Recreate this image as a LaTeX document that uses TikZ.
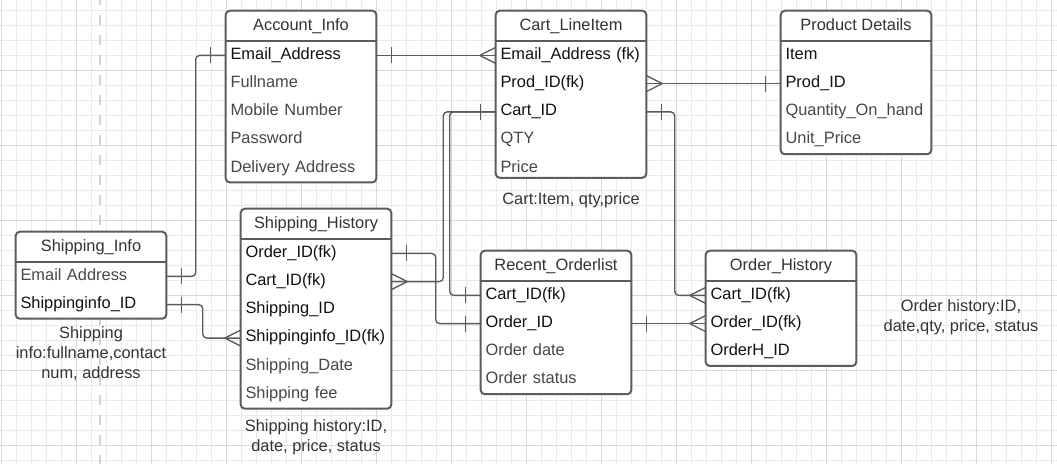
\documentclass[tikz,border=0pt]{standalone}
\usepackage{fontspec}
\setmainfont{Liberation Sans}
\usetikzlibrary{positioning,backgrounds}

\definecolor{framegray}{HTML}{5C5C5C}
\definecolor{linkgray}{HTML}{5A5A5A}
\definecolor{keytext}{HTML}{111111}
\definecolor{softtext}{HTML}{474747}
\definecolor{headtext}{HTML}{333333}
\definecolor{gridminor}{HTML}{EAEAEA}
\definecolor{gridmajor}{HTML}{D9D9D9}
\definecolor{dashgray}{HTML}{D2D2D2}

\begin{document}
\begin{tikzpicture}[x=0.75pt, y=-0.75pt,
    every node/.style={font=\fontsize{12.3}{15}\selectfont}]

    \tikzset{head/.style={minimum width=112.5pt, minimum height=22.5pt, inner sep=0pt,
                          text height=8.8pt, text depth=2.2pt, text=headtext}}
    \tikzset{row/.style={text width=105.7pt, inner xsep=3.4pt, inner ysep=0pt, align=left,
                         minimum height=20.775pt, text height=8.8pt, text depth=3pt,
                         text=softtext, below=0pt of #1}}
    \tikzset{key/.style={row=#1, text=keytext}}
    \tikzset{note/.style={align=center, text=headtext}}
    \tikzset{frame/.style={draw=framegray, line width=1.5pt, fill=white, rounded corners=3pt}}
    \tikzset{link/.style={draw=linkgray, line width=1pt, rounded corners=3pt}}
    \tikzset{onebar/.pic={\draw[link] (0,-8) -- (0,8);}}
    \tikzset{crowW/.pic={\draw[link] (-16,0) -- (0,-8) (-16,0) -- (0,8);}}
    \tikzset{crowE/.pic={\draw[link] (16,0) -- (0,-8) (16,0) -- (0,8);}}

    \useasboundingbox (0,0) rectangle (1057,464);

    % grid paper
    \begin{scope}[on background layer]
        \foreach \gx in {1.7,16.7,...,1057} \draw[gridminor, line width=0.6pt] (\gx,0) -- (\gx,464);
        \foreach \gy in {10.5,25.5,...,464} \draw[gridminor, line width=0.6pt] (0,\gy) -- (1057,\gy);
        \foreach \gx in {1.7,76.7,...,1057} \draw[gridmajor, line width=0.6pt] (\gx,0) -- (\gx,464);
        \foreach \gy in {70.5,145.5,...,464} \draw[gridmajor, line width=0.6pt] (0,\gy) -- (1057,\gy);
        \draw[dashgray, line width=2.2pt, dash pattern=on 7.5pt off 7.5pt] (100,-5) -- (100,470);
    \end{scope}

    % Account_Info
    \node[head] (ai) at (301,26) {Account\_Info};
    \node[key=ai] (ai1) {Email\_Address};
    \node[row=ai1] (ai2) {Fullname};
    \node[row=ai2] (ai3) {Mobile Number};
    \node[row=ai3] (ai4) {Password};
    \node[row=ai4] (ai5) {Delivery Address};

    % Cart_LineItem
    \node[head] (cl) at (571,26) {Cart\_LineItem};
    \node[key=cl] (cl1) {Email\_Address (fk)};
    \node[key=cl1] (cl2) {Prod\_ID(fk)};
    \node[key=cl2] (cl3) {Cart\_ID};
    \node[row=cl3] (cl4) {QTY};
    \node[row=cl4] (cl5) {Price};
    \node[note] (clnote) at (571,200) {Cart:Item, qty,price};

    % Product Details
    \node[head] (pd) at (856,26) {Product Details};
    \node[key=pd] (pd1) {Item};
    \node[key=pd1] (pd2) {Prod\_ID};
    \node[row=pd2] (pd3) {Quantity\_On\_hand};
    \node[row=pd3] (pd4) {Unit\_Price};

    % Shipping_Info
    \node[head] (si) at (91,247) {Shipping\_Info};
    \node[row=si] (si1) {Email Address};
    \node[key=si1] (si2) {Shippinginfo\_ID};
    \node[note] (sinote) at (91,354) {Shipping\\info:fullname,contact\\num, address};

    % Shipping_History
    \node[head] (sh) at (316,224) {Shipping\_History};
    \node[key=sh] (sh1) {Order\_ID(fk)};
    \node[key=sh1] (sh2) {Cart\_ID(fk)};
    \node[key=sh2] (sh3) {Shipping\_ID};
    \node[key=sh3] (sh4) {Shippinginfo\_ID(fk)};
    \node[row=sh4] (sh5) {Shipping\_Date};
    \node[row=sh5] (sh6) {Shipping fee};
    \node[note] (shnote) at (316,437) {Shipping history:ID,\\date, price, status};

    % Recent_Orderlist
    \node[head] (ro) at (556,266) {Recent\_Orderlist};
    \node[key=ro] (ro1) {Cart\_ID(fk)};
    \node[key=ro1] (ro2) {Order\_ID};
    \node[row=ro2] (ro3) {Order date};
    \node[row=ro3] (ro4) {Order status};

    % Order_History
    \node[head] (oh) at (781,266) {Order\_History};
    \node[key=oh] (oh1) {Cart\_ID(fk)};
    \node[key=oh1] (oh2) {Order\_ID(fk)};
    \node[key=oh2] (oh3) {OrderH\_ID};
    \node[note] (ohnote) at (961,317) {Order history:ID,\\date,qty, price, status};

    \begin{scope}[on background layer]
        \draw[frame] (ai.north west) rectangle (ai5.south east);
        \draw[frame] (cl.north west) rectangle ([yshift=3.5pt]cl5.south east);
        \draw[frame] (pd.north west) rectangle (pd4.south east);
        \draw[frame] (si.north west) rectangle (si2.south east);
        \draw[frame] (sh.north west) rectangle (sh6.south east);
        \draw[frame] (ro.north west) rectangle (ro4.south east);
        \draw[frame] (oh.north west) rectangle (oh3.south east);
        \draw[frame] (ai.south west) -- (ai.south east);
        \draw[frame] (cl.south west) -- (cl.south east);
        \draw[frame] (pd.south west) -- (pd.south east);
        \draw[frame] (si.south west) -- (si.south east);
        \draw[frame] (sh.south west) -- (sh.south east);
        \draw[frame] (ro.south west) -- (ro.south east);
        \draw[frame] (oh.south west) -- (oh.south east);
    \end{scope}

    % relations
    \draw[link] (si1.east) -| ([xshift=-22.5pt]ai1.west) -- (ai1.west);
    \draw[link] (ai1.east) -- (cl1.west);
    \draw[link] (cl2.east) -- (pd2.west);
    \draw[link] (cl3.west) -| ([xshift=39pt]sh2.east) -- (sh2.east);
    \draw[link] (cl3.west) -| ([xshift=-23.25pt]ro1.west) -- (ro1.west);
    \draw[link] (sh1.east) -| ([xshift=-33.75pt]ro2.west) -- (ro2.west);
    \draw[link] (cl3.east) -| ([xshift=-23.25pt]oh1.west) -- (oh1.west);
    \draw[link] (ro2.east) -- (oh2.west);
    \draw[link] (si2.east) -| ([xshift=-28.5pt]sh4.west) -- (sh4.west);

    \pic at ([xshift=11.25pt]si1.east) {onebar};
    \pic at ([xshift=-11.25pt]ai1.west) {onebar};
    \pic at ([xshift=11.25pt]ai1.east) {onebar};
    \pic at (cl1.west) {crowW};
    \pic at (cl2.east) {crowE};
    \pic at ([xshift=-11.25pt]pd2.west) {onebar};
    \pic at ([xshift=-11.25pt]cl3.west) {onebar};
    \pic at (sh2.east) {crowE};
    \pic at ([xshift=-11.25pt]ro1.west) {onebar};
    \pic at ([xshift=11.25pt]sh1.east) {onebar};
    \pic at ([xshift=-11.25pt]ro2.west) {onebar};
    \pic at ([xshift=11.25pt]cl3.east) {onebar};
    \pic at (oh1.west) {crowW};
    \pic at ([xshift=11.25pt]ro2.east) {onebar};
    \pic at (oh2.west) {crowW};
    \pic at ([xshift=11.25pt]si2.east) {onebar};
    \pic at (sh4.west) {crowW};

\end{tikzpicture}
\end{document}
